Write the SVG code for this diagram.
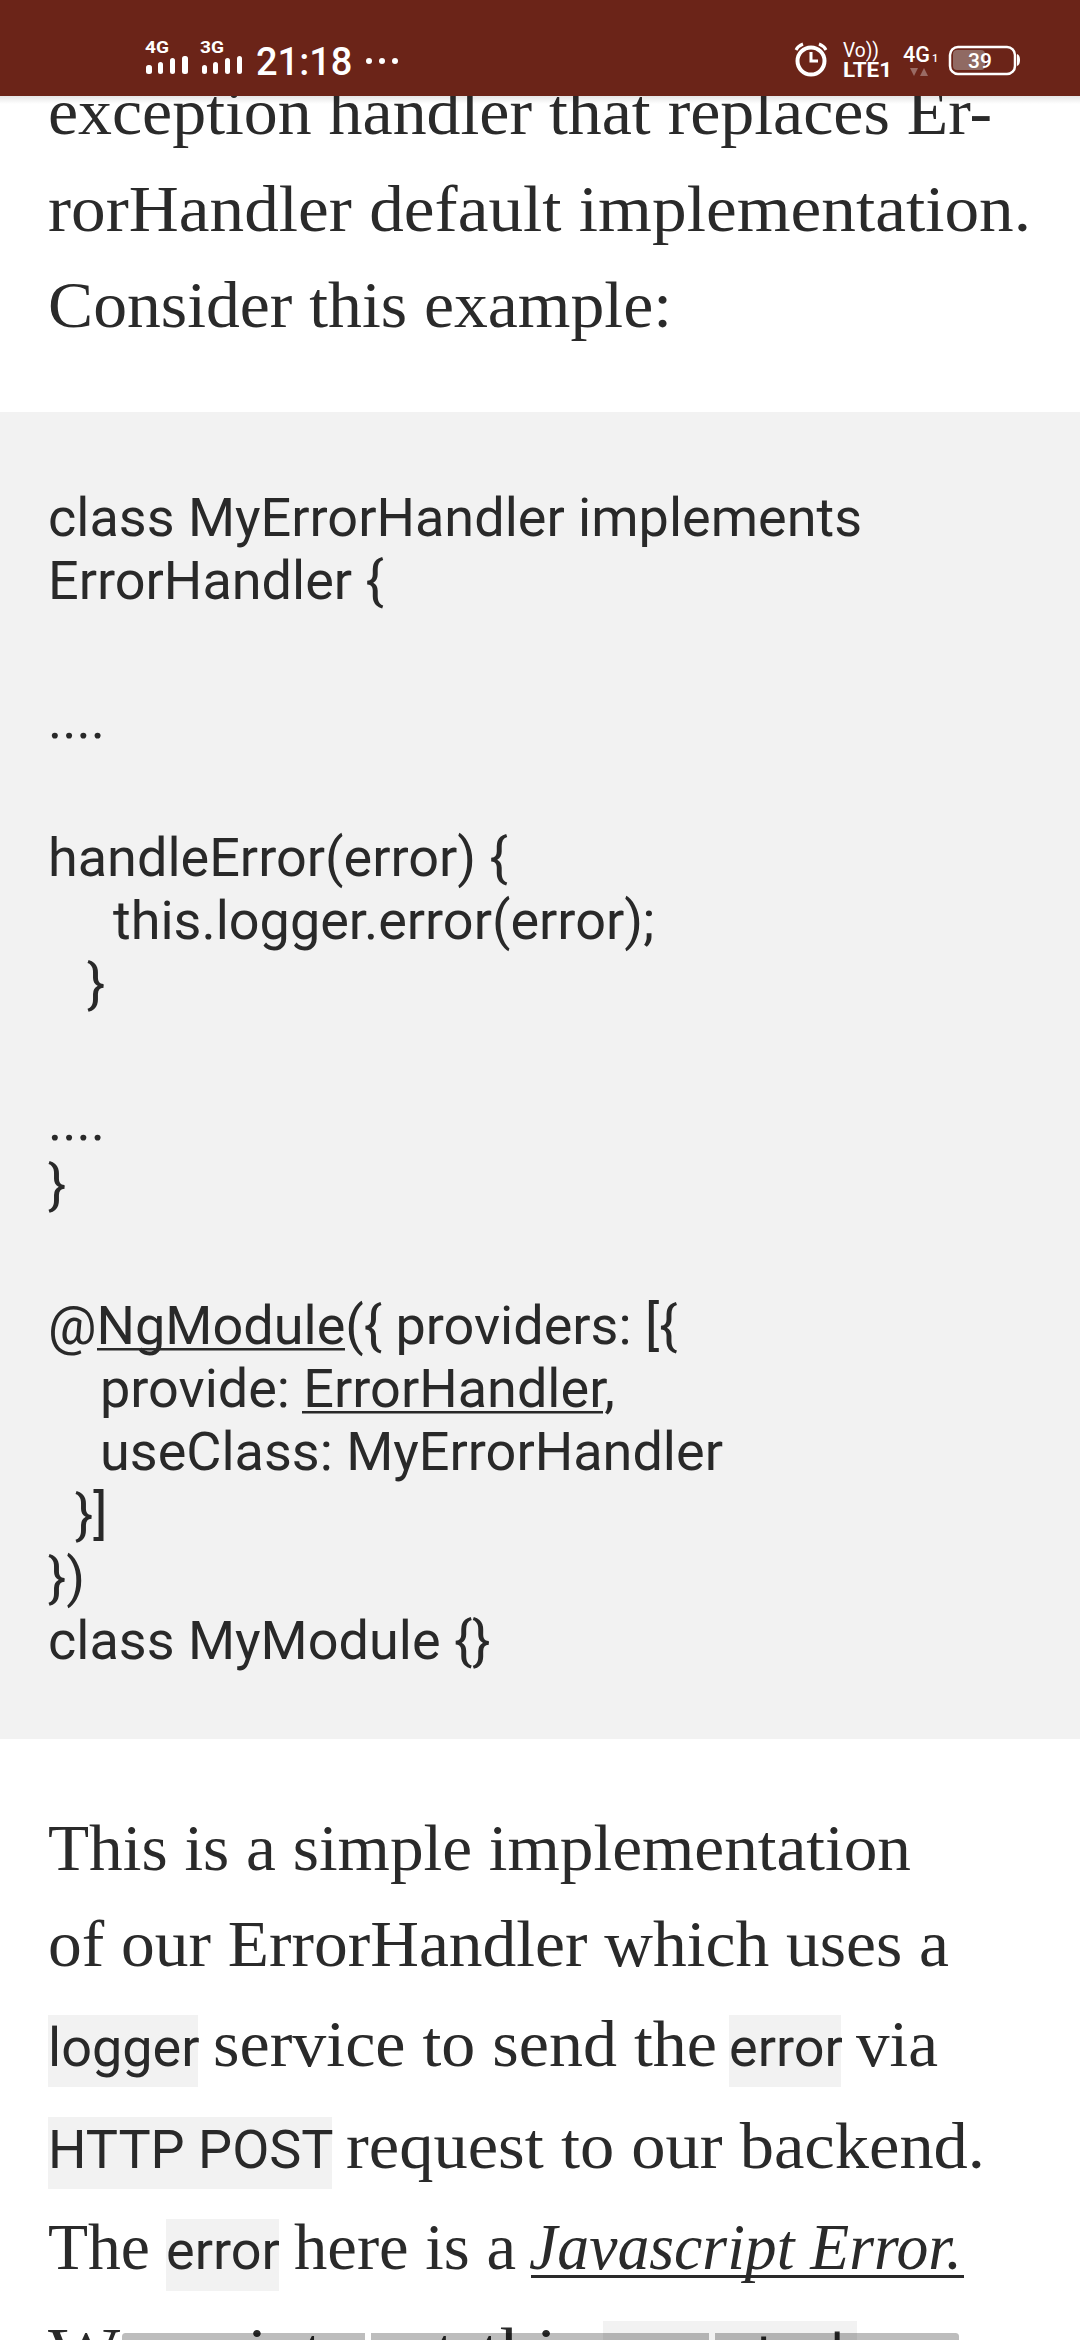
<svg xmlns="http://www.w3.org/2000/svg" width="1080" height="2340" viewBox="0 0 1080 2340">
<defs>
<linearGradient id="sh" x1="0" y1="0" x2="0" y2="1"><stop offset="0" stop-color="#000" stop-opacity=".1"/><stop offset="1" stop-color="#000" stop-opacity="0"/></linearGradient>
</defs>
<style>
.s{font-family:"Liberation Serif","DejaVu Serif",serif;font-size:65px;fill:#2a2a2a}
.c{font-family:Roboto,"Liberation Sans",sans-serif;font-size:54px;fill:#292929}
.chip{fill:#f2f2f2}
.w{font-family:Roboto,"Liberation Sans",sans-serif;fill:#fff}
.nav{fill:#000;fill-opacity:.26}
</style>
<rect width="1080" height="2340" fill="#fff"/>
<text class="s" x="48" y="134" textLength="944" lengthAdjust="spacingAndGlyphs">exception handler that replaces Er-</text>
<text class="s" x="48" y="231" textLength="983" lengthAdjust="spacingAndGlyphs">rorHandler default implementation.</text>
<text class="s" x="48" y="327" textLength="624" lengthAdjust="spacingAndGlyphs">Consider this example:</text>
<rect x="0" y="412" width="1080" height="1327" fill="#f2f2f2"/>
<g id="code">
<text class="c" x="48" y="536">class MyErrorHandler implements</text>
<text class="c" x="48" y="599">ErrorHandler {</text>
<text class="c" x="48" y="738">....</text>
<text class="c" x="48" y="876">handleError(error) {</text>
<text class="c" x="113" y="939">this.logger.error(error);</text>
<text class="c" x="87" y="1002">}</text>
<text class="c" x="48" y="1140">....</text>
<text class="c" x="48" y="1203">}</text>
<text class="c" x="48" y="1344">@NgModule({ providers: [{</text>
<rect x="97" y="1348" width="248" height="2.500" fill="#292929"/>
<text class="c" x="100" y="1407">provide: ErrorHandler,</text>
<rect x="302" y="1411" width="301" height="2.500" fill="#292929"/>
<text class="c" x="100" y="1470">useClass: MyErrorHandler</text>
<text class="c" x="75" y="1533">}]</text>
<text class="c" x="48" y="1596">})</text>
<text class="c" x="48" y="1659">class MyModule {}</text>
</g>
<rect class="chip" x="48" y="2015" width="150" height="72"/>
<rect class="chip" x="729" y="2015" width="112" height="72"/>
<rect class="chip" x="48" y="2117" width="284" height="72"/>
<rect class="chip" x="166" y="2219" width="113" height="72"/>
<rect class="chip" x="603" y="2321" width="254" height="19"/>
<text class="s" x="48" y="1870" textLength="863" lengthAdjust="spacingAndGlyphs">This is a simple implementation</text>
<text class="s" x="48" y="1966" textLength="901" lengthAdjust="spacingAndGlyphs">of our ErrorHandler which uses a</text>
<text class="c" x="48" y="2066">logger</text>
<text class="s" x="213" y="2066" textLength="504" lengthAdjust="spacingAndGlyphs">service to send the</text>
<text class="c" x="729" y="2066">error</text>
<text class="s" x="856" y="2066" textLength="82" lengthAdjust="spacingAndGlyphs">via</text>
<text class="c" x="48" y="2168">HTTP POST</text>
<text class="s" x="346" y="2168" textLength="639" lengthAdjust="spacingAndGlyphs">request to our backend.</text>
<text class="s" x="48" y="2269" textLength="102" lengthAdjust="spacingAndGlyphs">The</text>
<text class="c" x="166" y="2269">error</text>
<text class="s" x="294" y="2269" textLength="222" lengthAdjust="spacingAndGlyphs">here is a</text>
<text class="s" x="529" y="2269" font-style="italic" textLength="433" lengthAdjust="spacingAndGlyphs">Javascript Error.</text>
<rect x="531" y="2275" width="433" height="3" fill="#2a2a2a"/>
<text class="s" x="48" y="2373" textLength="100" lengthAdjust="spacingAndGlyphs">We</text>
<text class="s" x="188" y="2373" textLength="135" lengthAdjust="spacingAndGlyphs">print</text>
<text class="s" x="363" y="2373" textLength="92" lengthAdjust="spacingAndGlyphs">out</text>
<text class="s" x="480" y="2373" textLength="105" lengthAdjust="spacingAndGlyphs">this</text>
<text class="c" x="603" y="2372">error.stack</text>
<path class="nav" d="M125.500 2333H365V2340H122V2336.500A3.500 3.500 0 0 1 125.500 2333Z"/>
<rect class="nav" x="371" y="2333" width="338" height="7"/>
<path class="nav" d="M715 2333H955.500A3.500 3.500 0 0 1 959 2336.500V2340H715Z"/>
<rect x="0" y="96" width="1080" height="8" fill="url(#sh)"/>
<g id="status-bar">
<rect width="1080" height="96" fill="#6b2418"/>
<text class="w" x="145" y="53" font-size="17" font-weight="700" textLength="24" lengthAdjust="spacingAndGlyphs">4G</text>
<text class="w" x="200" y="53" font-size="17" font-weight="700" textLength="24" lengthAdjust="spacingAndGlyphs">3G</text>
<g fill="#fff">
<rect x="146" y="65" width="6" height="9" rx="2.500"/><rect x="158" y="62" width="5" height="12" rx="2.500"/><rect x="170" y="58" width="5" height="16" rx="2.500"/><rect x="182" y="56" width="6" height="18" rx="2.500"/>
<rect x="202" y="65" width="5" height="9" rx="2.500"/><rect x="213" y="62" width="5" height="12" rx="2.500"/><rect x="225" y="58" width="5" height="16" rx="2.500"/><rect x="237" y="56" width="5" height="18" rx="2.500"/>
<circle cx="369" cy="61" r="3"/><circle cx="382" cy="61" r="3"/><circle cx="395" cy="61" r="3"/>
</g>
<text class="w" x="256" y="75" font-size="38" font-weight="500">21:18</text>
<g fill="none" stroke="#fff" stroke-width="4">
<circle cx="811" cy="61" r="13.500"/>
<path d="M811 52v9h7" stroke-width="3"/>
<path d="M796 50q2-4 7-6M826 50q-2-4-7-6" stroke-width="3"/>
</g>
<text class="w" x="843" y="57" font-size="21" textLength="36" lengthAdjust="spacingAndGlyphs">Vo))</text>
<text class="w" x="843" y="77" font-size="21" font-weight="700" textLength="49" lengthAdjust="spacingAndGlyphs">LTE1</text>
<text class="w" x="903" y="62" font-size="22" font-weight="500" textLength="27" lengthAdjust="spacingAndGlyphs">4G</text>
<text class="w" x="932" y="62" font-size="11" font-weight="500">1</text>
<path d="M910 68h8l-4 8zM920 76h8l-4-8z" fill="#9a6b64"/>
<rect x="953" y="50" width="32" height="20" rx="4" fill="#906a63"/>
<rect x="950" y="47" width="65" height="27" rx="8" fill="none" stroke="#fff" stroke-width="2.500"/>
<path d="M1017 54q3 1 3 6t-3 6z" fill="#fff"/>
<text class="w" x="968" y="68" font-size="21" font-weight="500">39</text>
</g>
</svg>
